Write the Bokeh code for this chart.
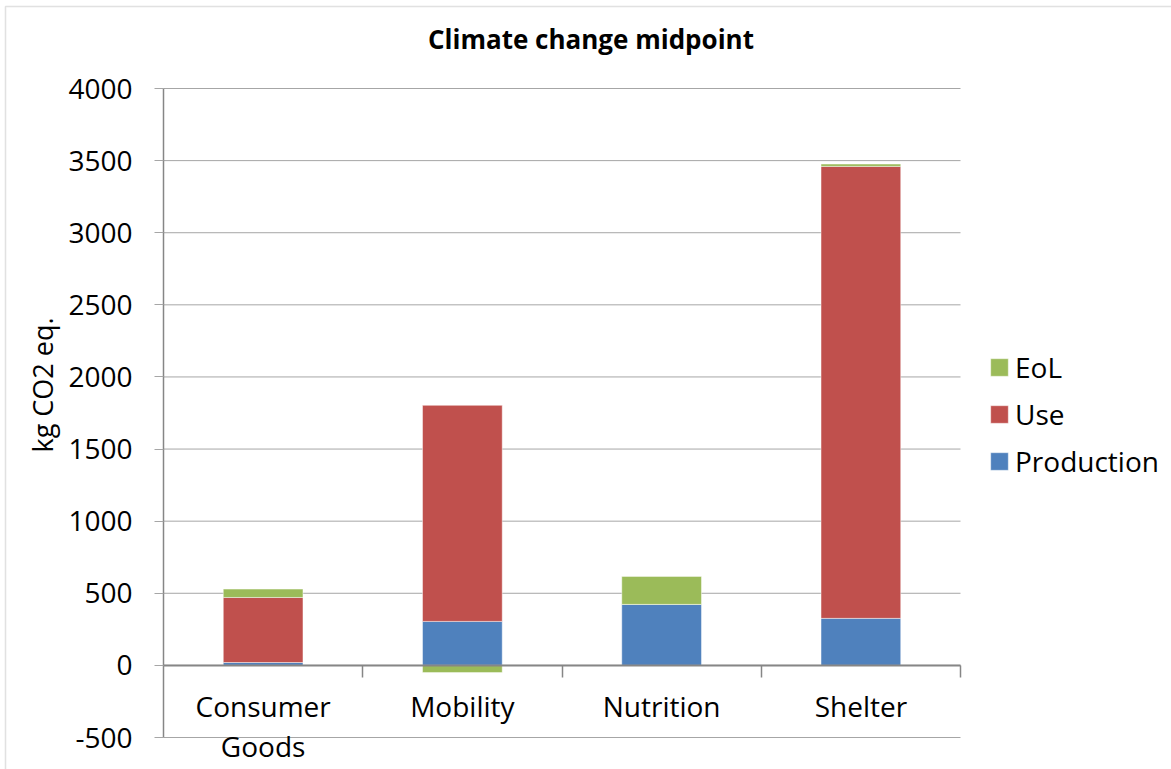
import numpy as np
from bokeh.plotting import figure
from bokeh.core.properties import value
from bokeh.models import (Range1d, Legend, LegendItem, LinearAxis, FixedTicker, BoxAnnotation)
from bokeh.embed import file_html
from bokeh.resources import INLINE

# Climate change midpoint, kg CO2 eq. per consumption area
categories = ["Consumer\nGoods", "Mobility", "Nutrition", "Shelter"]
production = [20, 305, 423, 326]
use = [451, 1498, 0, 3134]
eol = [58, -50, 194, 16]
y_ticks = [-500, 0, 500, 1000, 1500, 2000, 2500, 3000, 3500, 4000]

FONT = "Open Sans"
GRID = "#A6A6A6"
AXIS = "#868686"

# canvas and plot-area geometry (pixels)
W, H = 1171, 769
PLOT_L, PLOT_R, PLOT_T, PLOT_B = 163, 960, 88, 737

n = len(categories)
y_lo, y_hi = y_ticks[0], y_ticks[-1]
kx = n / (PLOT_R - PLOT_L)            # data units per pixel
ky = (y_hi - y_lo) / (PLOT_B - PLOT_T)

p = figure(width=W, height=H, output_backend="svg", toolbar_location=None,
           x_range=Range1d(-PLOT_L * kx, (W - PLOT_L) * kx),
           y_range=Range1d(y_lo - (H - PLOT_B) * ky, y_hi + PLOT_T * ky),
           x_axis_location=None, y_axis_location=None, min_border=0)
p.outline_line_color = None
p.grid.visible = False

# horizontal gridlines across the plot area
p.segment(x0=np.zeros(len(y_ticks)), x1=np.full(len(y_ticks), float(n)),
          y0=y_ticks, y1=y_ticks, line_color=GRID, line_width=1)

# stacked bars: positives stack upward from 0, negatives downward
centers = np.arange(n) + 0.5
pos = np.zeros(n)
neg = np.zeros(n)
renderers = {}
for name, vals, color in [("Production", production, "#4F81BD"),
                          ("Use", use, "#C0504D"),
                          ("EoL", eol, "#9BBB59")]:
    v = np.array(vals, dtype=float)
    bottom = np.where(v >= 0, pos, neg)
    top = bottom + v
    pos = np.where(v >= 0, top, pos)
    neg = np.where(v < 0, top, neg)
    renderers[name] = p.vbar(x=centers, width=0.4, bottom=bottom, top=top,
                             fill_color=color, line_color="white", line_alpha=0.45,
                             line_width=1)

# axis lines
p.segment(x0=[0.0], x1=[float(n)], y0=[0.0], y1=[0.0], line_color=AXIS, line_width=2)
p.segment(x0=[0.0], x1=[0.0], y0=[y_lo], y1=[y_hi], line_color=AXIS, line_width=1.5)

# value axis
yaxis = LinearAxis(fixed_location=0, ticker=FixedTicker(ticks=y_ticks, minor_ticks=[]))
yaxis.axis_line_color = None
yaxis.major_tick_line_color = GRID
yaxis.major_tick_out = 9
yaxis.major_tick_in = 0
yaxis.minor_tick_line_color = None
yaxis.major_label_standoff = 22
yaxis.major_label_overrides = {t: str(t) for t in y_ticks}
yaxis.major_label_text_font = FONT
yaxis.major_label_text_font_size = "28px"
yaxis.major_label_text_color = "black"
yaxis.axis_label = "kg CO2 eq."
yaxis.axis_label_text_font = FONT
yaxis.axis_label_text_font_size = "27px"
yaxis.axis_label_text_font_style = "normal"
yaxis.axis_label_text_color = "black"
yaxis.axis_label_standoff = 4
p.add_layout(yaxis, "left")

# category axis on the zero line: tick marks between categories
xaxis = LinearAxis(fixed_location=0,
                   ticker=FixedTicker(ticks=list(centers), minor_ticks=list(np.arange(1, n + 1))))
xaxis.axis_line_color = None
xaxis.major_tick_line_color = None
xaxis.major_tick_out = 0
xaxis.major_tick_in = 0
xaxis.minor_tick_line_color = AXIS
xaxis.minor_tick_line_width = 1.5
xaxis.minor_tick_out = 12
xaxis.minor_tick_in = 0
xaxis.major_label_overrides = {float(c): "" for c in centers}
p.add_layout(xaxis, "below")

# category names under the zero line
p.text(x=centers, y=np.zeros(n), text=categories, y_offset=22,
       text_align="center", text_baseline="top", text_font=value(FONT),
       text_font_size="28px", text_color="black", text_line_height=1.05)

# title
p.text(x=[(p.x_range.start + p.x_range.end) / 2], y=[p.y_range.end - 38 * ky],
       text=["Climate change midpoint"], x_offset=5,
       text_align="center", text_baseline="middle", text_font=value(FONT),
       text_font_size="26px", text_font_style="bold", text_color="black")

# legend
legend = Legend(items=[LegendItem(label="EoL", renderers=[renderers["EoL"]]),
                       LegendItem(label="Use", renderers=[renderers["Use"]]),
                       LegendItem(label="Production", renderers=[renderers["Production"]])],
                location=(988, 289), orientation="vertical",
                border_line_color=None, background_fill_alpha=0,
                padding=0, margin=0, spacing=9,
                glyph_width=22, glyph_height=22, label_standoff=5,
                label_text_font=FONT, label_text_font_size="28px", label_text_color="black")
p.add_layout(legend, "center")

# chart area border
p.add_layout(BoxAnnotation(left=5, right=1200, top=6, bottom=800,
                           left_units="canvas", right_units="canvas",
                           top_units="canvas", bottom_units="canvas",
                           fill_alpha=0, line_color="#9A9A9A", line_width=1.5))

open("out.html", "w").write(file_html(p, INLINE))
